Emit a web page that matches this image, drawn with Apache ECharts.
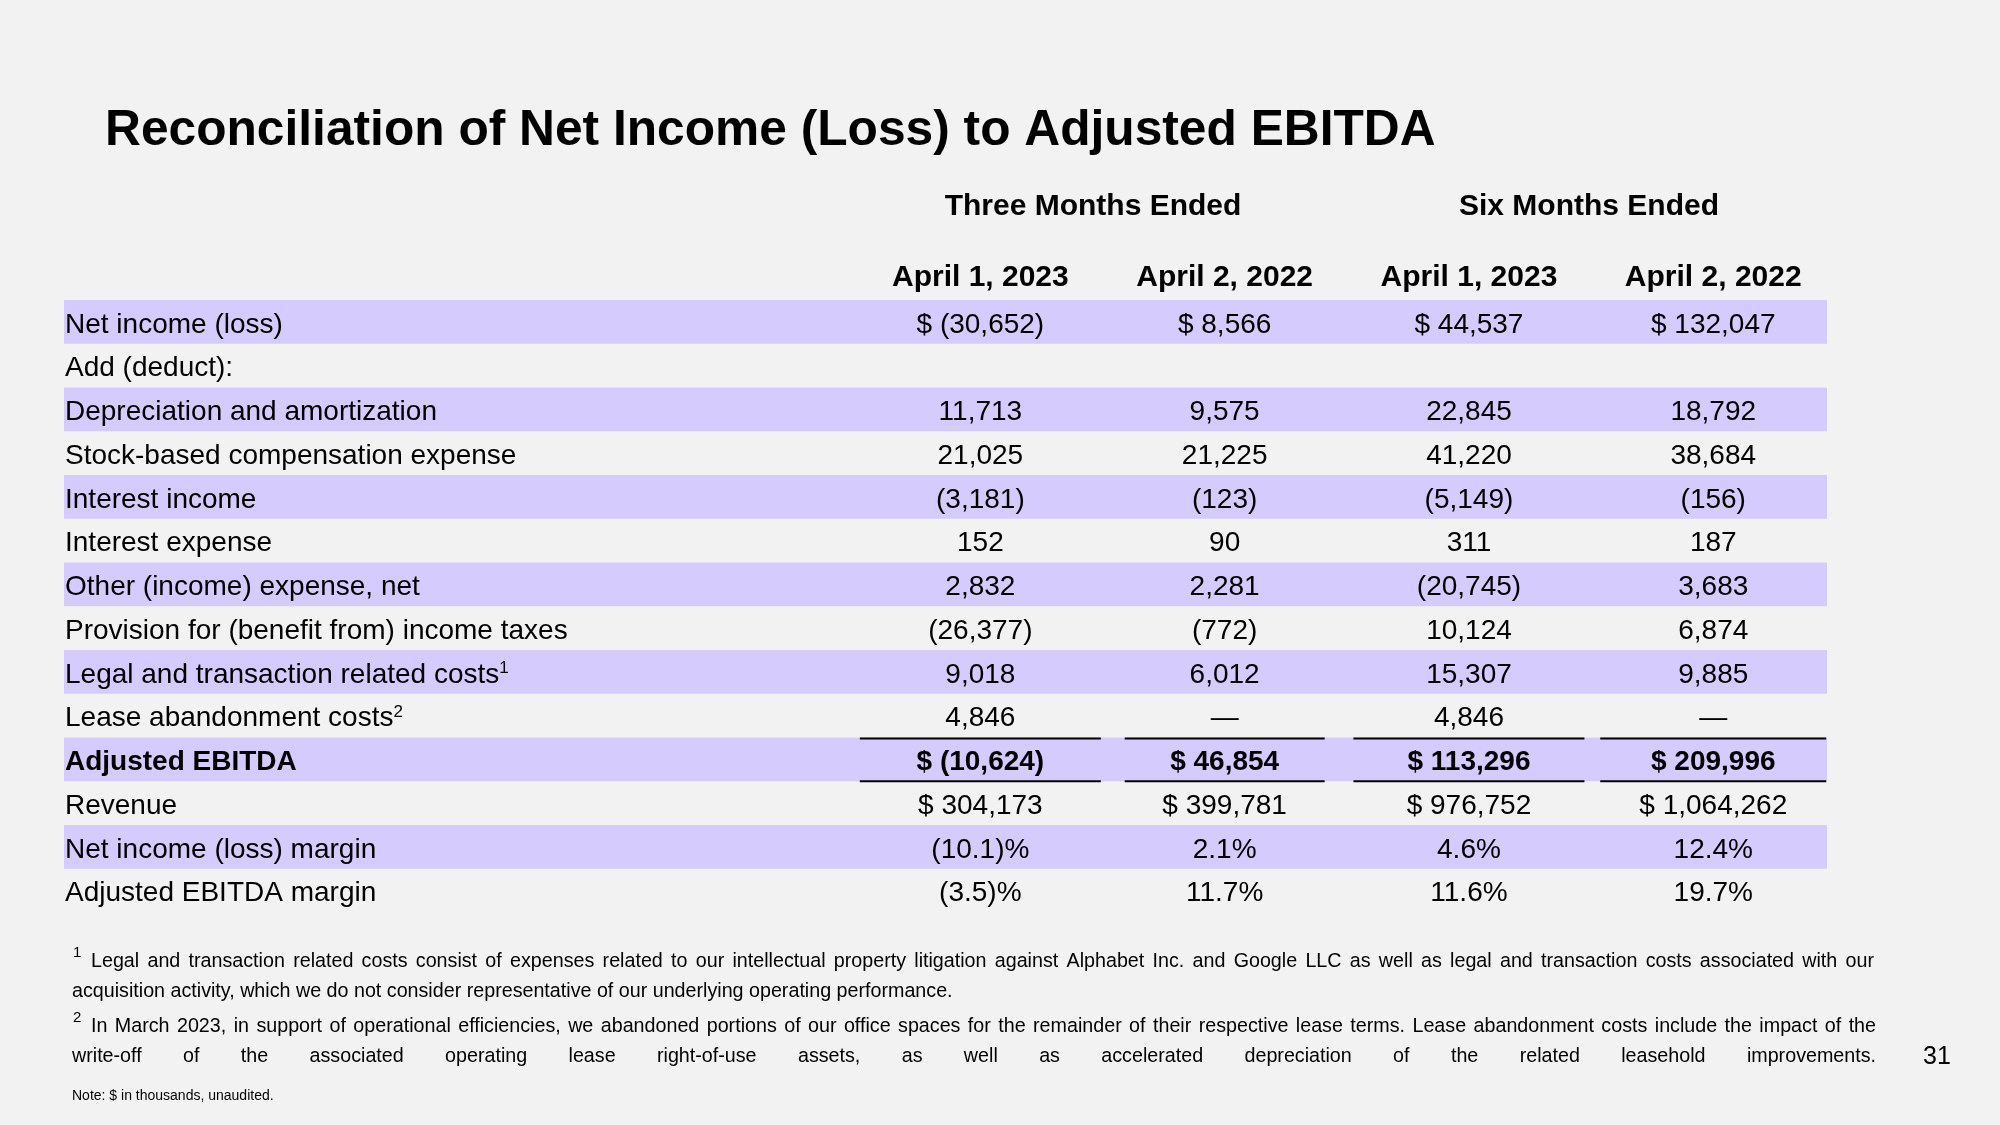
<!DOCTYPE html>
<html><head><meta charset="utf-8">
<script src="https://cdn.jsdelivr.net/npm/echarts@6/dist/echarts.min.js"></script>
<style>html,body{margin:0;padding:0;background:#f2f2f2}#c{width:2000px;height:1125px}</style>
</head><body><div id="c"></div>
<script>
// ---------- DATA ----------
const titleText = 'Reconciliation of Net Income (Loss) to Adjusted EBITDA';
const periodLabels = ['Three Months Ended', 'Six Months Ended'];
const columnLabels = ['April 1, 2023', 'April 2, 2022', 'April 1, 2023', 'April 2, 2022'];
const rowLabels = [
  'Net income (loss)', 'Add (deduct):', 'Depreciation and amortization',
  'Stock-based compensation expense', 'Interest income', 'Interest expense',
  'Other (income) expense, net', 'Provision for (benefit from) income taxes',
  'Legal and transaction related costs', 'Lease abandonment costs',
  'Adjusted EBITDA', 'Revenue', 'Net income (loss) margin', 'Adjusted EBITDA margin'
];
const rowNotes = ['', '', '', '', '', '', '', '', '1', '2', '', '', '', ''];
const totalRows = ['Adjusted EBITDA'];
const threeMonths2023 = ['$ (30,652)', '', '11,713', '21,025', '(3,181)', '152', '2,832', '(26,377)', '9,018', '4,846', '$ (10,624)', '$ 304,173', '(10.1)%', '(3.5)%'];
const threeMonths2022 = ['$ 8,566', '', '9,575', '21,225', '(123)', '90', '2,281', '(772)', '6,012', '—', '$ 46,854', '$ 399,781', '2.1%', '11.7%'];
const sixMonths2023 = ['$ 44,537', '', '22,845', '41,220', '(5,149)', '311', '(20,745)', '10,124', '15,307', '4,846', '$ 113,296', '$ 976,752', '4.6%', '11.6%'];
const sixMonths2022 = ['$ 132,047', '', '18,792', '38,684', '(156)', '187', '3,683', '6,874', '9,885', '—', '$ 209,996', '$ 1,064,262', '12.4%', '19.7%'];
const footnote1 = [
  'Legal and transaction related costs consist of expenses related to our intellectual property litigation against Alphabet Inc. and Google LLC as well as legal and transaction costs associated with our',
  'acquisition activity, which we do not consider representative of our underlying operating performance.'
];
const footnote2 = [
  'In March 2023, in support of operational efficiencies, we abandoned portions of our office spaces for the remainder of their respective lease terms. Lease abandonment costs include the impact of the',
  'write-off of the associated operating lease right-of-use assets, as well as accelerated depreciation of the related leasehold improvements.'
];
const noteText = 'Note: $ in thousands, unaudited.';
const pageNumber = '31';

// ---------- STYLE / LAYOUT ----------
const FONT = '"Liberation Sans", Arial, sans-serif';
const BAND = '#d5cbfc';
const INK = '#000000';
const underlineWidths = [241, 200, 231, 226];
const columns = [threeMonths2023, threeMonths2022, sixMonths2023, sixMonths2022];

const cells = [];
columns.forEach((col, c) => col.forEach((t, r) => {
  if (t !== '') cells.push({ value: [c, r], text: t, bold: totalRows.includes(rowLabels[r]) });
}));
const totalData = [];
totalRows.forEach(name => {
  const r = rowLabels.indexOf(name);
  columns.forEach((_, c) => totalData.push([c, r]));
});

// justified footnote lines
const mctx = document.createElement('canvas').getContext('2d');
function textLine(text, x0, x1, y, size, justify) {
  const st = (t) => ({ text: t, fontSize: size, fontFamily: FONT, fill: INK, align: 'left', verticalAlign: 'middle' });
  if (!justify) return [{ type: 'text', x: x0, y: y, style: st(text) }];
  mctx.font = size + 'px ' + FONT;
  const words = text.split(' ');
  const widths = words.map(w => mctx.measureText(w).width);
  const total = widths.reduce((a, b) => a + b, 0);
  const gap = (x1 - x0 - total) / (words.length - 1);
  const els = [];
  let x = x0;
  words.forEach((w, i) => { els.push({ type: 'text', x: x, y: y, style: st(w) }); x += widths[i] + gap; });
  return els;
}

const FN = 19.7;
const graphics = [
  { type: 'text', x: 105, y: 131, style: { text: titleText, fontSize: 49.7, fontWeight: 'bold', fontFamily: FONT, fill: INK, verticalAlign: 'middle' } },
  { type: 'text', x: 1093, y: 206.5, style: { text: periodLabels[0], fontSize: 30, fontWeight: 'bold', fontFamily: FONT, fill: INK, align: 'center', verticalAlign: 'middle' } },
  { type: 'text', x: 1589, y: 206.5, style: { text: periodLabels[1], fontSize: 30, fontWeight: 'bold', fontFamily: FONT, fill: INK, align: 'center', verticalAlign: 'middle' } },
  { type: 'text', x: 73, y: 953, style: { text: '1', fontSize: 15, fontFamily: FONT, fill: INK, verticalAlign: 'middle' } },
  { type: 'text', x: 73, y: 1018, style: { text: '2', fontSize: 15, fontFamily: FONT, fill: INK, verticalAlign: 'middle' } },
  ...textLine(footnote1[0], 91, 1874, 962, FN, true),
  ...textLine(footnote1[1], 72, 1874, 992, FN, false),
  ...textLine(footnote2[0], 91, 1876, 1027, FN, true),
  ...textLine(footnote2[1], 72, 1876, 1057, FN, true),
  { type: 'text', x: 72, y: 1096, style: { text: noteText, fontSize: 14, fontFamily: FONT, fill: INK, verticalAlign: 'middle' } },
  { type: 'text', x: 1937, y: 1057, style: { text: pageNumber, fontSize: 25, fontFamily: FONT, fill: INK, align: 'center', verticalAlign: 'middle' } }
];

const chart = echarts.init(document.getElementById('c'), null, { renderer: 'canvas' });
const option = {
  backgroundColor: '#f2f2f2',
  animation: false,
  textStyle: { fontFamily: FONT, color: INK },
  grid: [
    { left: 64, width: 1763, top: 300, height: 612.5 },
    { left: 858.2, width: 977.2, top: 300, height: 612.5 }
  ],
  xAxis: [
    { gridIndex: 0, type: 'value', min: 0, max: 1, show: false },
    {
      gridIndex: 1, type: 'category', position: 'top', data: columnLabels.map((_, i) => 'c' + i),
      axisLine: { show: false }, axisTick: { show: false },
      axisLabel: { interval: 0, margin: 7, fontSize: 30, fontWeight: 'bold', color: INK, fontFamily: FONT,
        formatter: (v, i) => columnLabels[i] }
    }
  ],
  yAxis: [
    {
      gridIndex: 0, type: 'category', inverse: true, data: rowLabels.map((_, i) => 'r' + i),
      axisLine: { show: false }, axisTick: { show: false, interval: 0 },
      splitLine: { show: false },
      splitArea: { show: true, interval: 0, areaStyle: { color: [BAND, 'rgba(0,0,0,0)'] } },
      axisLabel: {
        inside: true, margin: 1, interval: 0, fontSize: 28, color: INK, fontFamily: FONT,
        padding: [6, 0, 0, 0],
        formatter: (v, i) => {
          const base = totalRows.includes(rowLabels[i]) ? '{b|' + rowLabels[i] + '}' : rowLabels[i];
          return rowNotes[i] ? base + '{sup|' + rowNotes[i] + '}' : base;
        },
        rich: {
          b: { fontSize: 28, fontWeight: 'bold', fontFamily: FONT, color: INK },
          sup: { fontSize: 17, fontFamily: FONT, color: INK, verticalAlign: 'top', lineHeight: 30 }
        }
      }
    },
    { gridIndex: 1, type: 'category', inverse: true, data: rowLabels.map((_, i) => 'r' + i), show: false }
  ],
  series: [
    {
      type: 'custom', xAxisIndex: 1, yAxisIndex: 1, data: cells.map(c => c.value),
      renderItem: (params, api) => {
        const cell = cells[params.dataIndex];
        const p = api.coord([api.value(0), api.value(1)]);
        return { type: 'text', x: p[0], y: p[1] + 3,
          style: { text: cell.text, fontSize: 28, fontWeight: cell.bold ? 'bold' : 'normal', fontFamily: FONT, fill: INK, align: 'center', verticalAlign: 'middle' } };
      }
    },
    {
      type: 'custom', xAxisIndex: 1, yAxisIndex: 1, data: totalData,
      renderItem: (params, api) => {
        const c = api.value(0);
        const p = api.coord([c, api.value(1)]);
        const h = api.size([0, 1])[1];
        const w = underlineWidths[c];
        const ls = { stroke: INK, lineWidth: 2 };
        return { type: 'group', children: [
          { type: 'line', shape: { x1: p[0] - w / 2, y1: p[1] - h / 2 + 1, x2: p[0] + w / 2, y2: p[1] - h / 2 + 1 }, style: ls },
          { type: 'line', shape: { x1: p[0] - w / 2, y1: p[1] + h / 2, x2: p[0] + w / 2, y2: p[1] + h / 2 }, style: ls }
        ] };
      }
    }
  ],
  graphic: graphics
};
chart.setOption(option);
</script></body></html>
